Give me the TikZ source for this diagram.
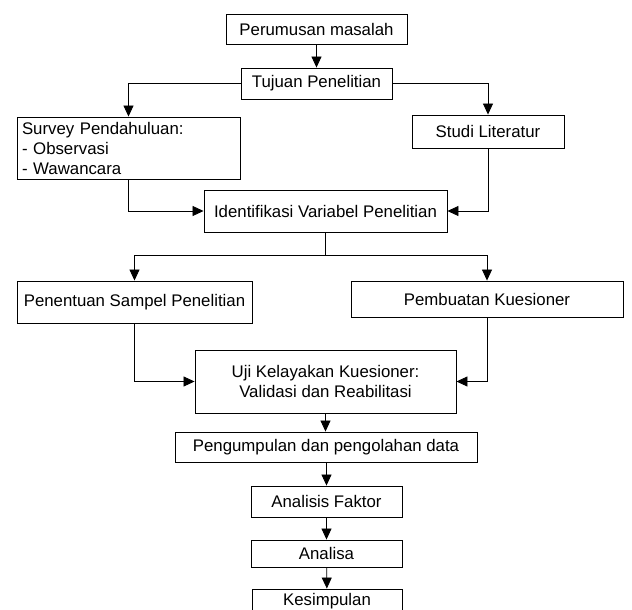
\documentclass[tikz,border=0pt]{standalone}
\usepackage{fontspec}
\setmainfont{Liberation Sans}
\usetikzlibrary{arrows.meta}
\begin{document}
\begin{tikzpicture}[x=1pt,y=-1pt,
  box/.style={draw, line width=0.9pt, inner sep=0pt, font=\fontsize{16.8}{20}\selectfont},
  conn/.style={line width=0.8pt, -{Triangle[length=11pt,width=10pt]}},
  plain/.style={line width=0.8pt}]
\useasboundingbox (0,0) rectangle (632,610);
\clip (0,0) rectangle (632,610);
\node[box, minimum width=181pt, minimum height=30pt] (perum) at (316.5,29) {Perumusan masalah};
\node[box, minimum width=151pt, minimum height=31pt] (tujuan) at (316.5,83.5) {Tujuan Penelitian};
\node[box, minimum width=223pt, minimum height=62pt, text width=213pt, align=left] (survey) at (128.5,148) {Survey Pendahuluan:\\- Observasi\\- Wawancara};
\node[box, minimum width=152pt, minimum height=33pt] (studi) at (488,131.5) {Studi Literatur};
\node[box, minimum width=243pt, minimum height=42pt] (ident) at (325.5,211) {Identifikasi Variabel Penelitian};
\node[box, minimum width=235pt, minimum height=42pt] (pen) at (134.5,302) {Penentuan Sampel Penelitian};
\node[box, minimum width=272pt, minimum height=36pt] (pemb) at (487,299) {Pembuatan Kuesioner};
\node[box, minimum width=261pt, minimum height=63pt, align=center] (uji) at (325.5,381.5) {Uji Kelayakan Kuesioner:\\Validasi dan Reabilitasi};
\node[box, minimum width=302pt, minimum height=30pt] (pengum) at (326,447) {Pengumpulan dan pengolahan data};
\node[box, minimum width=151pt, minimum height=31pt] (faktor) at (326.5,501.5) {Analisis Faktor};
\node[box, minimum width=151pt, minimum height=27pt] (analisa) at (326.5,553.5) {Analisa};
\node[box, minimum width=150pt, minimum height=24pt] (kesim) at (327,601) {Kesimpulan};
\coordinate (split) at (325.5,255);

\draw[conn] (perum) -- (tujuan);
\draw[conn] (tujuan.west) -| (survey.north);
\draw[conn] (tujuan.east) -| (studi.north);
\draw[conn] (survey.south) |- (ident.west);
\draw[conn] (studi.south) |- (ident.east);
\draw[plain] (ident.south) -- (split);
\draw[conn] (split) -| (pen.north);
\draw[conn] (split) -| (pemb.north);
\draw[conn] (pen.south) |- (uji.west);
\draw[conn] (pemb.south) |- (uji.east);
\draw[conn] (uji.south) -- (uji.south |- pengum.north);
\draw[conn] (pengum.south -| faktor.north) -- (faktor.north);
\draw[conn] (faktor) -- (analisa);
\draw[conn] (analisa) -- (kesim);
\end{tikzpicture}
\end{document}
